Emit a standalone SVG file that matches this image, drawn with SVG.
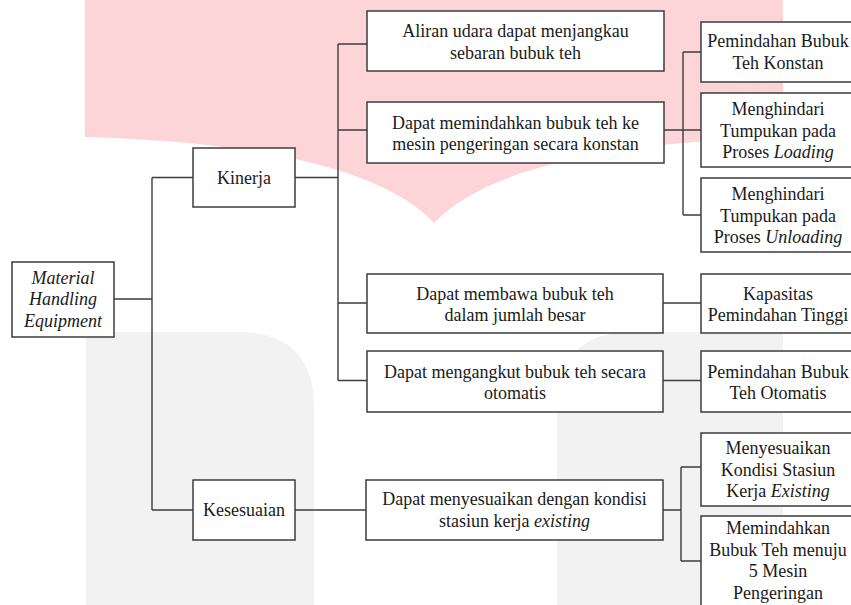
<svg xmlns="http://www.w3.org/2000/svg" width="851" height="605" viewBox="0 0 851 605">
<style>
.box{fill:#ffffff;stroke:#3c3c3c;stroke-width:1.5}
.t{font-family:"Liberation Serif","Times New Roman",serif;font-size:18px;fill:#1a1a1a;text-anchor:middle}
.i{font-style:italic}
.c{fill:none;stroke:#3c3c3c;stroke-width:1.4}
</style>
<rect x="0" y="0" width="851" height="605" fill="#ffffff"/>
<g id="watermark">
<path d="M85,0 V137 Q360,145 434,223 Q508,145 783,137 V0 Z" fill="#fdd5d8"/>
<path d="M86,605 V332 H238 Q314,332 314,408 V605 Z" fill="#f2f2f2"/>
<path d="M783,605 V332 H633 Q557,332 557,408 V605 Z" fill="#f2f2f2"/>
</g>
<g id="connectors">
<path class="c" d="M114,299 H152 M152,177.5 V510 M152,177.5 H193 M152,510 H193"/>
<path class="c" d="M295,177.5 H338 M338,44 V380.5 M338,44 H367 M338,130 H367 M338,303 H367 M338,380.5 H367"/>
<path class="c" d="M664,130 H701 M683,52 V215 M683,52 H701 M683,215 H701"/>
<path class="c" d="M663,303 H701 M663,380.5 H701"/>
<path class="c" d="M295,510 H366 M663,510 H681 M681,467 V561 M681,467 H701 M681,561 H701"/>
</g>
<g id="mhe"><rect class="box" x="12" y="262" width="102" height="75"/>
<text class="t i" x="63" y="283.5">Material</text><text class="t i" x="63" y="305">Handling</text><text class="t i" x="63" y="326.5">Equipment</text></g>
<g id="kinerja"><rect class="box" x="193" y="148" width="102" height="59"/><text class="t" x="244" y="183.5">Kinerja</text></g>
<g id="kesesuaian"><rect class="box" x="193" y="480" width="102" height="60"/><text class="t" x="244" y="516">Kesesuaian</text></g>
<g id="aliran"><rect class="box" x="367" y="11" width="297" height="60"/>
<text class="t" x="515.5" y="37">Aliran udara dapat menjangkau</text><text class="t" x="515.5" y="58.5">sebaran bubuk teh</text></g>
<g id="memindahkan"><rect class="box" x="367" y="102" width="297" height="61"/>
<text class="t" x="515.5" y="128.5">Dapat memindahkan bubuk teh ke</text><text class="t" x="515.5" y="150">mesin pengeringan secara konstan</text></g>
<g id="membawa"><rect class="box" x="367" y="274" width="296" height="59"/>
<text class="t" x="515" y="299.5">Dapat membawa bubuk teh</text><text class="t" x="515" y="320.5">dalam jumlah besar</text></g>
<g id="mengangkut"><rect class="box" x="367" y="351" width="296" height="61"/>
<text class="t" x="515" y="377.5">Dapat mengangkut bubuk teh secara</text><text class="t" x="515" y="398.5">otomatis</text></g>
<g id="menyesuaikan"><rect class="box" x="366" y="480" width="297" height="60"/>
<text class="t" x="514.5" y="505">Dapat menyesuaikan dengan kondisi</text><text class="t" x="514.5" y="526.5">stasiun kerja <tspan class="i">existing</tspan></text></g>
<g id="r1"><rect class="box" x="701" y="22" width="156" height="60"/>
<text class="t" x="778" y="47">Pemindahan Bubuk</text><text class="t" x="778" y="68.5">Teh Konstan</text></g>
<g id="r2"><rect class="box" x="701" y="93" width="156" height="74"/>
<text class="t" x="778" y="115">Menghindari</text><text class="t" x="778" y="136.5">Tumpukan pada</text><text class="t" x="778" y="158">Proses <tspan class="i">Loading</tspan></text></g>
<g id="r3"><rect class="box" x="701" y="178" width="156" height="74"/>
<text class="t" x="778" y="200">Menghindari</text><text class="t" x="778" y="221.5">Tumpukan pada</text><text class="t" x="778" y="243">Proses <tspan class="i">Unloading</tspan></text></g>
<g id="r4"><rect class="box" x="701" y="274" width="156" height="59"/>
<text class="t" x="778" y="299.5">Kapasitas</text><text class="t" x="778" y="320.5">Pemindahan Tinggi</text></g>
<g id="r5"><rect class="box" x="701" y="351" width="156" height="61"/>
<text class="t" x="778" y="377.5">Pemindahan Bubuk</text><text class="t" x="778" y="398.5">Teh Otomatis</text></g>
<g id="r6"><rect class="box" x="701" y="433" width="156" height="73"/>
<text class="t" x="778" y="454">Menyesuaikan</text><text class="t" x="778" y="475.5">Kondisi Stasiun</text><text class="t" x="778" y="497">Kerja <tspan class="i">Existing</tspan></text></g>
<g id="r7"><rect class="box" x="701" y="516" width="156" height="100"/>
<text class="t" x="778" y="534">Memindahkan</text><text class="t" x="778" y="555.5">Bubuk Teh menuju</text><text class="t" x="778" y="577">5 Mesin</text><text class="t" x="778" y="598.5">Pengeringan</text></g>
</svg>
